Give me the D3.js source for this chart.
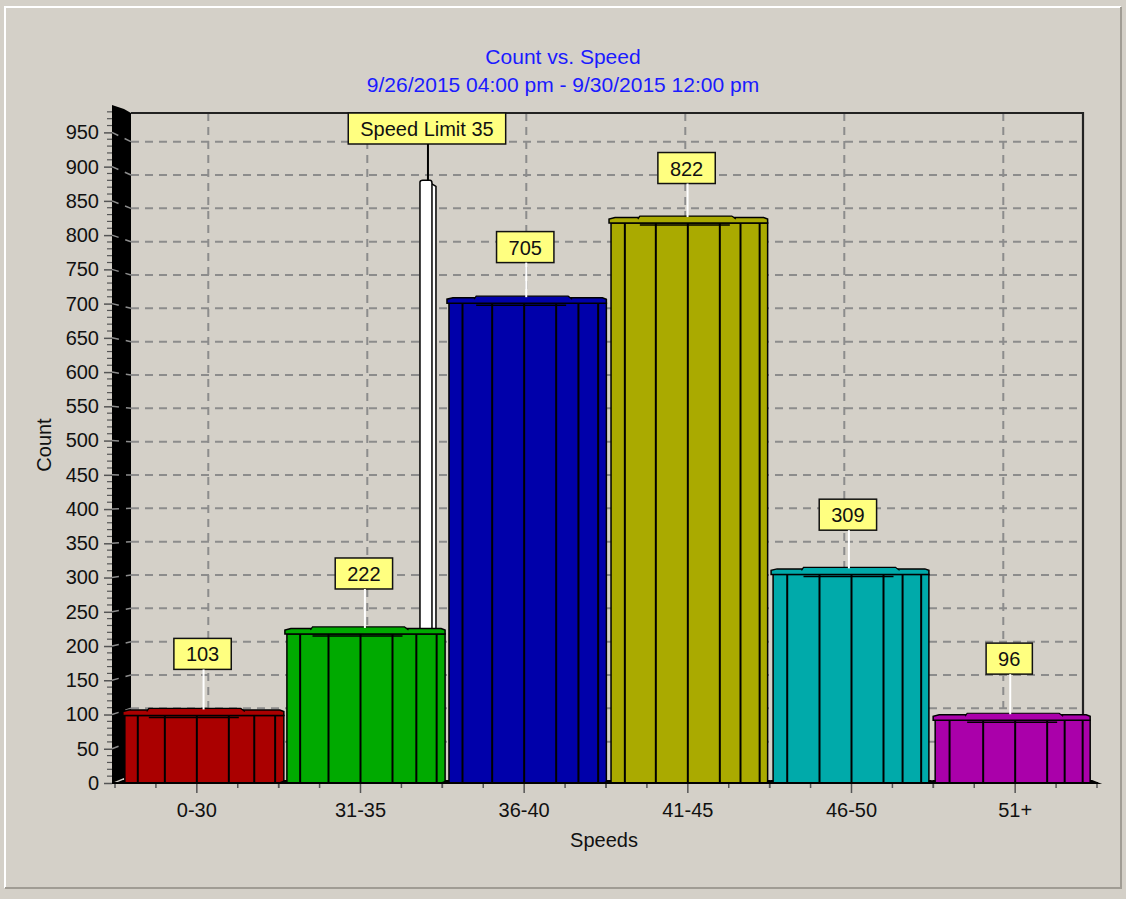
<!DOCTYPE html>
<html><head><meta charset="utf-8">
<script src="https://cdn.jsdelivr.net/npm/d3@7"></script>
<style>
html,body{margin:0;padding:0;background:#d4d0c8;}
svg{display:block;font-family:"Liberation Sans",Arial,sans-serif;}
</style></head>
<body>
<svg id="chart" width="1126" height="899"></svg>
<script>
// ---- data ----
const titleText = "Count vs. Speed";
const subtitleText = "9/26/2015 04:00 pm - 9/30/2015 12:00 pm";
const categories = ["0-30", "31-35", "36-40", "41-45", "46-50", "51+"];
const counts = [103, 222, 705, 822, 309, 96];
const barColors = ["#aa0000", "#00aa00", "#0000aa", "#aaaa00", "#00aaaa", "#aa00aa"];
const yTickValues = [0, 50, 100, 150, 200, 250, 300, 350, 400, 450, 500, 550, 600, 650, 700, 750, 800, 850, 900, 950];
const speedLimit = 35;
const speedLimitLabel = "Speed Limit 35";
const speedLimitMarkerTop = 880;
const xAxisTitle = "Speeds";
const yAxisTitle = "Count";

// ---- layout ----
const svg = d3.select("#chart");
const W = 1126, H = 899;
const fontSize = 21;

svg.append("rect").attr("width", W).attr("height", H).attr("fill", "#d4d0c8");
// panel border
svg.append("path").attr("d", "M5,888 V7 H1121").attr("fill", "none").attr("stroke", "#ffffff").attr("stroke-width", 2);
svg.append("path").attr("d", "M5,888 H1121 V7").attr("fill", "none").attr("stroke", "#a09c94").attr("stroke-width", 2);

const xFront = d3.scaleBand().domain(categories).range([115, 1097]).padding(0);
const xBack = d3.scaleBand().domain(categories).range([128.8, 1082.8]).padding(0);
const yFront = d3.scaleLinear().domain([0, 990]).range([783, 105]);
const yBack = d3.scaleLinear().domain([0, 993]).range([775, 113]);
const bwF = xFront.bandwidth(), bwB = xBack.bandwidth();
const cFront = c => xFront(c) + bwF / 2;
const cBack = c => xBack(c) + bwB / 2;
const cMid = c => (cFront(c) + cBack(c)) / 2;
const yMid = v => (yFront(v) + yBack(v)) / 2;
const speedX = d3.scaleLinear().domain([30.5, 35.5]).range([xFront("31-35"), xFront("31-35") + bwF]);

// titles
svg.append("text").attr("x", 563).attr("y", 64).attr("text-anchor", "middle")
  .attr("font-size", fontSize).attr("fill", "#1a1aff").text(titleText);
svg.append("text").attr("x", 563).attr("y", 92).attr("text-anchor", "middle")
  .attr("font-size", fontSize).attr("fill", "#1a1aff").text(subtitleText);

// back wall gridlines
const grid = svg.append("g");
const [bx0, bx1] = xBack.range();
const backLeft = 131, backRight = 1083;
yTickValues.filter(v => v > 0).forEach(v => {
  grid.append("line").attr("x1", backLeft).attr("x2", backRight)
    .attr("y1", yBack(v)).attr("y2", yBack(v))
    .attr("stroke", "#8c8c8c").attr("stroke-width", 2).attr("stroke-dasharray", "8,6");
});
categories.forEach(c => {
  grid.append("line").attr("x1", cBack(c)).attr("x2", cBack(c))
    .attr("y1", yBack(993)).attr("y2", yBack(0))
    .attr("stroke", "#8c8c8c").attr("stroke-width", 2).attr("stroke-dasharray", "8,6");
});
// frame
svg.append("path").attr("d", `M${backLeft},${yBack(993)} H${backRight} V${yBack(0)}`)
  .attr("fill", "none").attr("stroke", "#222").attr("stroke-width", 2.2);

// left black wall
svg.append("path")
  .attr("d", `M112,${yFront(990)} L124,109 L131,${yBack(993)} L131,${yBack(0)} L112,${yFront(0)} Z`)
  .attr("fill", "#000");
// slanted connectors on wall
yTickValues.filter(v => v > 0).forEach(v => {
  svg.append("line").attr("x1", 112).attr("y1", yFront(v)).attr("x2", 131).attr("y2", yBack(v))
    .attr("stroke", "#8c8c8c").attr("stroke-width", 1.5).attr("stroke-dasharray", "7,7");
});

// speed limit marker (behind bars)
const sx = speedX(speedLimit);
const mTop = yFront(speedLimitMarkerTop);
svg.append("path")
  .attr("d", `M${sx + 5},${mTop + 3} L${sx + 10},${mTop + 6} L${sx + 10},${yFront(0)} L${sx + 5},${yFront(0)} Z`)
  .attr("fill", "#fff").attr("stroke", "#000").attr("stroke-width", 1.5);
svg.append("path")
  .attr("d", `M${sx - 6},${yFront(0)} L${sx - 6},${mTop + 2} Q${sx - 6},${mTop} ${sx - 3},${mTop} L${sx + 4},${mTop} Q${sx + 6},${mTop} ${sx + 6},${mTop + 3} L${sx + 6},${yFront(0)} Z`)
  .attr("fill", "#fff").attr("stroke", "#000").attr("stroke-width", 1.5);

// bars
const bars = svg.append("g");
const y0 = yFront(0);
categories.forEach((c, i) => {
  const v = counts[i];
  const col = barColors[i];
  const cx = cFront(c);
  const yv = yFront(v);
  const L = cx - 72 - 1.6 * i;
  const R = cx + 87 - 2.4 * i;
  const g = bars.append("g");
  // bottom shadow
  g.append("path").attr("d", `M${L - 12},${y0 + 1} L${L - 2},${y0 - 3} L${R + 2},${y0 - 3} L${R + 12},${y0 + 1} Z`).attr("fill", "#000");
  // body
  g.append("rect").attr("x", L).attr("y", yv + 3).attr("width", R - L).attr("height", y0 - yv - 3)
    .attr("fill", col).attr("stroke", "#000").attr("stroke-width", 1.5);
  // facet lines
  const facets = [L + 0.18 * (cx - L), cx - 32, cx, cx + 32, cx + 0.66 * (R - cx), cx + 0.9 * (R - cx)];
  facets.forEach(fx => {
    g.append("line").attr("x1", fx).attr("x2", fx).attr("y1", yv + 3).attr("y2", y0)
      .attr("stroke", "#000").attr("stroke-width", 2);
  });
  // top cap (outer rim)
  g.append("path")
    .attr("d", `M${L - 2},${yv + 3} L${L - 2},${yv - 1} L${L + 4},${yv - 2.5} L${R - 4},${yv - 2.5} L${R},${yv - 1} L${R},${yv + 3} Z`)
    .attr("fill", col).attr("stroke", "#000").attr("stroke-width", 1.5);
  // raised middle of cap
  g.append("path")
    .attr("d", `M${cx - 50},${yv - 1} L${cx - 48},${yv - 4} L${cx + 44},${yv - 4} L${cx + 48},${yv - 1}`)
    .attr("fill", col).attr("stroke", "#000").attr("stroke-width", 1.2);
  g.append("line").attr("x1", cx - 48).attr("x2", cx + 42).attr("y1", yv + 5).attr("y2", yv + 5)
    .attr("stroke", "#000").attr("stroke-width", 1.5);
});

// x axis
svg.append("line").attr("x1", 112).attr("x2", 1098).attr("y1", y0).attr("y2", y0)
  .attr("stroke", "#000").attr("stroke-width", 2);
categories.forEach(c => {
  for (let k = 0; k <= 4; k++) {
    const tx = xFront(c) + k * bwF / 4;
    const major = k === 2;
    svg.append("line").attr("x1", tx).attr("x2", tx).attr("y1", y0 + 1).attr("y2", y0 + (major ? 10 : 5))
      .attr("stroke", "#555").attr("stroke-width", 1.5);
  }
  svg.append("text").attr("x", cFront(c)).attr("y", 817).attr("text-anchor", "middle")
    .attr("font-size", fontSize - 1).attr("fill", "#111").text(c);
});
svg.append("text").attr("x", 604).attr("y", 847).attr("text-anchor", "middle")
  .attr("font-size", fontSize - 1).attr("fill", "#111").text(xAxisTitle);

// y axis (front)
const yAxis = d3.axisLeft(yFront).tickValues(yTickValues).tickSize(8).tickSizeOuter(0).tickPadding(5);
const ya = svg.append("g").attr("transform", "translate(112,0)").call(yAxis);
ya.select(".domain").remove();
ya.selectAll(".tick line").attr("stroke", "#555").attr("stroke-width", 1.5);
ya.selectAll(".tick text").attr("font-size", fontSize - 1).attr("fill", "#111")
  .attr("font-family", "'Liberation Sans', Arial, sans-serif");
// minor ticks
const minorG = svg.append("g");
yTickValues.forEach(v => {
  for (let m = 10; m < 50; m += 10) {
    const yy = yFront(v + m);
    if (yy < 106) continue;
    minorG.append("line").attr("x1", 107).attr("x2", 112).attr("y1", yy).attr("y2", yy)
      .attr("stroke", "#555").attr("stroke-width", 1.2);
  }
});
svg.append("text").attr("transform", "translate(51,445) rotate(-90)").attr("text-anchor", "middle")
  .attr("font-size", fontSize - 1).attr("fill", "#111").text(yAxisTitle);

// value labels
function labelBox(cx, bottom, text, lineTo, lineColor) {
  const t = svg.append("text").attr("x", cx).attr("y", bottom - 8).attr("text-anchor", "middle")
    .attr("font-size", fontSize - 1).attr("fill", "#111").text(text);
  const w = t.node().getComputedTextLength() + 24;
  if (lineTo != null) {
    svg.append("line").attr("x1", cx + 1).attr("x2", cx + 1).attr("y1", bottom).attr("y2", lineTo)
      .attr("stroke", lineColor).attr("stroke-width", 2);
  }
  svg.insert("rect", () => t.node()).attr("x", cx - w / 2).attr("y", bottom - 31).attr("width", w).attr("height", 31)
    .attr("fill", "#ffff80").attr("stroke", "#111").attr("stroke-width", 1.5);
}
categories.forEach((c, i) => {
  const v = counts[i];
  labelBox(cMid(c), yMid(v) - 40, String(v), yFront(v) - 3, "#ffffff");
});
labelBox(sx + 1, yBack(993) + 31, speedLimitLabel, mTop, "#000");
</script>
</body></html>
